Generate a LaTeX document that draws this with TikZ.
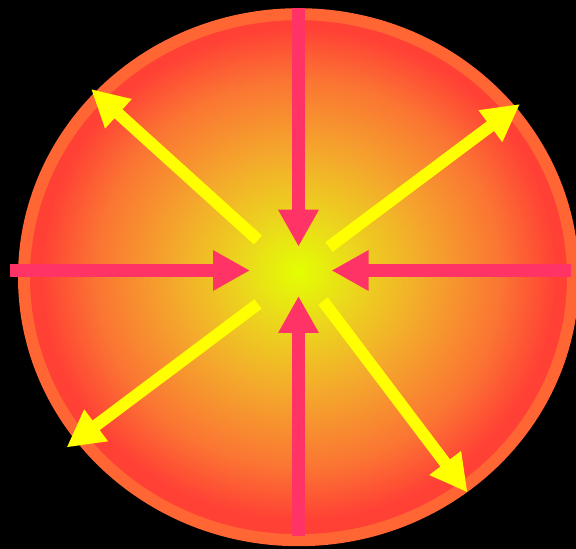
\documentclass[tikz,border=0pt]{standalone}
\usepackage{tikz}
\usetikzlibrary{arrows.meta}
\definecolor{night}{HTML}{000000}
\definecolor{rim}{HTML}{FF6633}
\definecolor{pink}{HTML}{FF3366}
\definecolor{lemon}{HTML}{FFFF00}
\definecolor{core}{HTML}{E3FF00}
\definecolor{warm}{HTML}{EBD81C}
\definecolor{amber}{HTML}{F4A82C}
\definecolor{flame}{HTML}{FB7433}
\definecolor{ember}{HTML}{FF4035}
\pgfdeclareradialshading{glow}{\pgfpoint{0bp}{0.55bp}}{%
  color(0bp)=(core); color(5bp)=(warm); color(11.5bp)=(amber);
  color(18.5bp)=(flame); color(23.5bp)=(ember); color(25bp)=(ember); color(50bp)=(ember)}

\begin{document}
\begin{tikzpicture}[
  x=1pt,y=1pt,
  disc/.style={shading=glow,draw=rim,line width=12pt},
  inarrow/.style={-{Triangle[length=37pt,width=38pt]},line width=12.5pt,draw=pink,fill=pink},
  outarrow/.style={-{Triangle[length=37pt,width=37pt]},line width=12pt,draw=lemon,fill=lemon}
]
\useasboundingbox (0,0) rectangle (576,549);
\fill[night] (0,0) rectangle (576,549);
\clip (0,0) rectangle (576,549);

% sphere
\coordinate (centre) at (298.5,271.8);
\path[disc] (centre) ellipse [x radius=274.5pt,y radius=263pt];

% inward pressure
\coordinate (endN) at (298.5,541);  \coordinate (tipN) at (298.5,302.3);
\coordinate (endS) at (298.5,13);   \coordinate (tipS) at (298.5,253);
\coordinate (endW) at (10,278.5);   \coordinate (tipW) at (250,278.5);
\coordinate (endE) at (571,278.5);  \coordinate (tipE) at (331.5,278.5);
\draw[inarrow] (endN) -- (tipN);
\draw[inarrow] (endS) -- (tipS);
\draw[inarrow] (endW) -- (tipW);
\draw[inarrow] (endE) -- (tipE);

% outward pressure
\coordinate (ulIn) at (258,309);  \coordinate (ulTip) at (91,460);
\coordinate (urIn) at (329,302);  \coordinate (urTip) at (520,445);
\coordinate (llIn) at (258,245);  \coordinate (llTip) at (66.5,101.5);
\coordinate (lrIn) at (323,248);  \coordinate (lrTip) at (467.5,56.5);
\draw[outarrow] (ulIn) -- (ulTip);
\draw[outarrow] (urIn) -- (urTip);
\draw[outarrow] (llIn) -- (llTip);
\draw[outarrow] (lrIn) -- (lrTip);
\end{tikzpicture}
\end{document}
